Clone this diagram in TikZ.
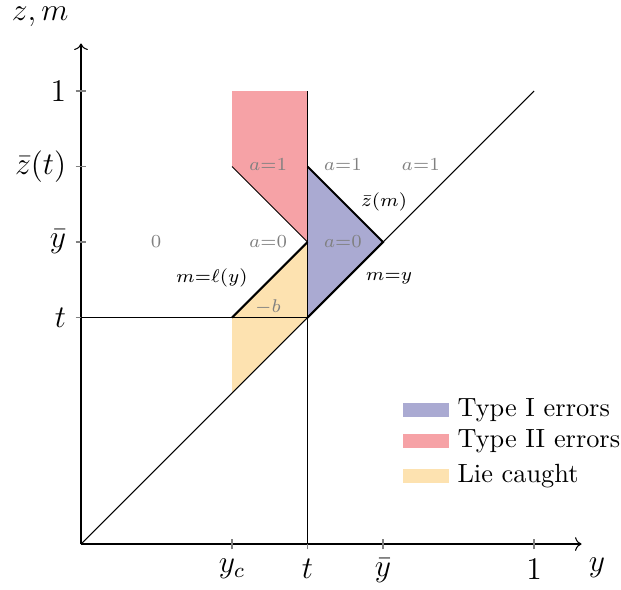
\documentclass[tikz,border=0pt]{standalone}
\usetikzlibrary{arrows.meta}
\definecolor{typeone}{RGB}{170,170,210}
\definecolor{typetwo}{RGB}{246,162,166}
\definecolor{caught}{RGB}{253,226,176}
\begin{document}
\begin{tikzpicture}[x=6.05cm,y=6.05cm,
  tck/.style={draw=gray, line width=0.4pt},
  ticklab/.style={font=\large, inner sep=2pt},
  arealab/.style={font=\scriptsize, text=gray, inner sep=1pt},
  curvelab/.style={font=\scriptsize, inner sep=1pt},
  legkey/.style={minimum width=0.61cm, minimum height=0.19cm, inner sep=0pt, anchor=west},
  legtext/.style={anchor=west, inner sep=0pt}]
\useasboundingbox (-0.1788,-0.0993) rectangle (1.192,1.2009);
% shaded regions
\fill[typetwo] (1/3,1) -- (0.5,1) -- (0.5,2/3) -- (1/3,5/6) -- cycle;
\fill[typeone] (0.5,0.5) -- (2/3,2/3) -- (0.5,5/6) -- cycle;
\fill[caught] (1/3,0.5) -- (0.5,2/3) -- (0.5,0.5) -- (1/3,1/3) -- cycle;
% axes
\draw[->] (0,0) -- (1.105,0);
\draw[->] (0,0) -- (0,1.105);
\foreach \xv in {1/3,0.5,2/3,1} \draw[tck] (\xv,-0.012) -- (\xv,0.012);
\foreach \yv in {0.5,2/3,5/6,1} \draw[tck] (-0.012,\yv) -- (0.012,\yv);
\node[ticklab, below] (xyc) at (1/3,-0.02) {$y_c$};
\node[ticklab, below] (xt) at (0.5,-0.02) {$t$};
\node[ticklab, below] (xyb) at (2/3,-0.02) {$\bar y$};
\node[ticklab, below] (xone) at (1,-0.02) {$1$};
\node[ticklab, left] (yt) at (-0.02,0.5) {$t$};
\node[ticklab, left] (yyb) at (-0.02,2/3) {$\bar y$};
\node[ticklab, left] (yzt) at (-0.02,5/6) {$\bar z(t)$};
\node[ticklab, left] (yone) at (-0.02,1) {$1$};
\node[ticklab] (ylab) at (-0.09,1.163) {$z,m$};
\node[ticklab] (xlab) at (1.139,-0.053) {$y$};
% lines
\draw (0,0) -- (1,1);
\draw (0,0.5) -- (0.5,0.5);
\draw (0.5,0) -- (0.5,1);
\draw (1/3,5/6) -- (0.5,2/3);
\draw[thick] (1/3,0.5) -- (0.5,2/3);
\draw[thick] (0.5,5/6) -- (2/3,2/3) -- (0.5,0.5);
% labels
\node[arealab] (a1l) at (0.413,0.838) {$a{=}1$};
\node[arealab] (a1m) at (0.578,0.838) {$a{=}1$};
\node[arealab] (a1r) at (0.75,0.838) {$a{=}1$};
\node[arealab] (zero) at (0.166,0.667) {$0$};
\node[arealab] (a0l) at (0.413,0.667) {$a{=}0$};
\node[arealab] (a0m) at (0.578,0.667) {$a{=}0$};
\node[arealab] (mb) at (0.413,0.523) {$-b$};
\node[curvelab] (zm) at (0.669,0.755) {$\bar z(m)$};
\node[curvelab] (my) at (0.68,0.587) {$m{=}y$};
\node[curvelab] (ml) at (0.289,0.587) {$m{=}\ell(y)$};
% legend
\node[legkey, fill=typeone] (k1) at (0.71,0.296) {};
\node[legkey, fill=typetwo] (k2) at (0.71,0.227) {};
\node[legkey, fill=caught] (k3) at (0.71,0.150) {};
\node[legtext] (t1) at (0.830,0.296) {Type I errors};
\node[legtext] (t2) at (0.830,0.227) {Type II errors};
\node[legtext] (t3) at (0.830,0.150) {Lie caught};
\end{tikzpicture}
\end{document}
